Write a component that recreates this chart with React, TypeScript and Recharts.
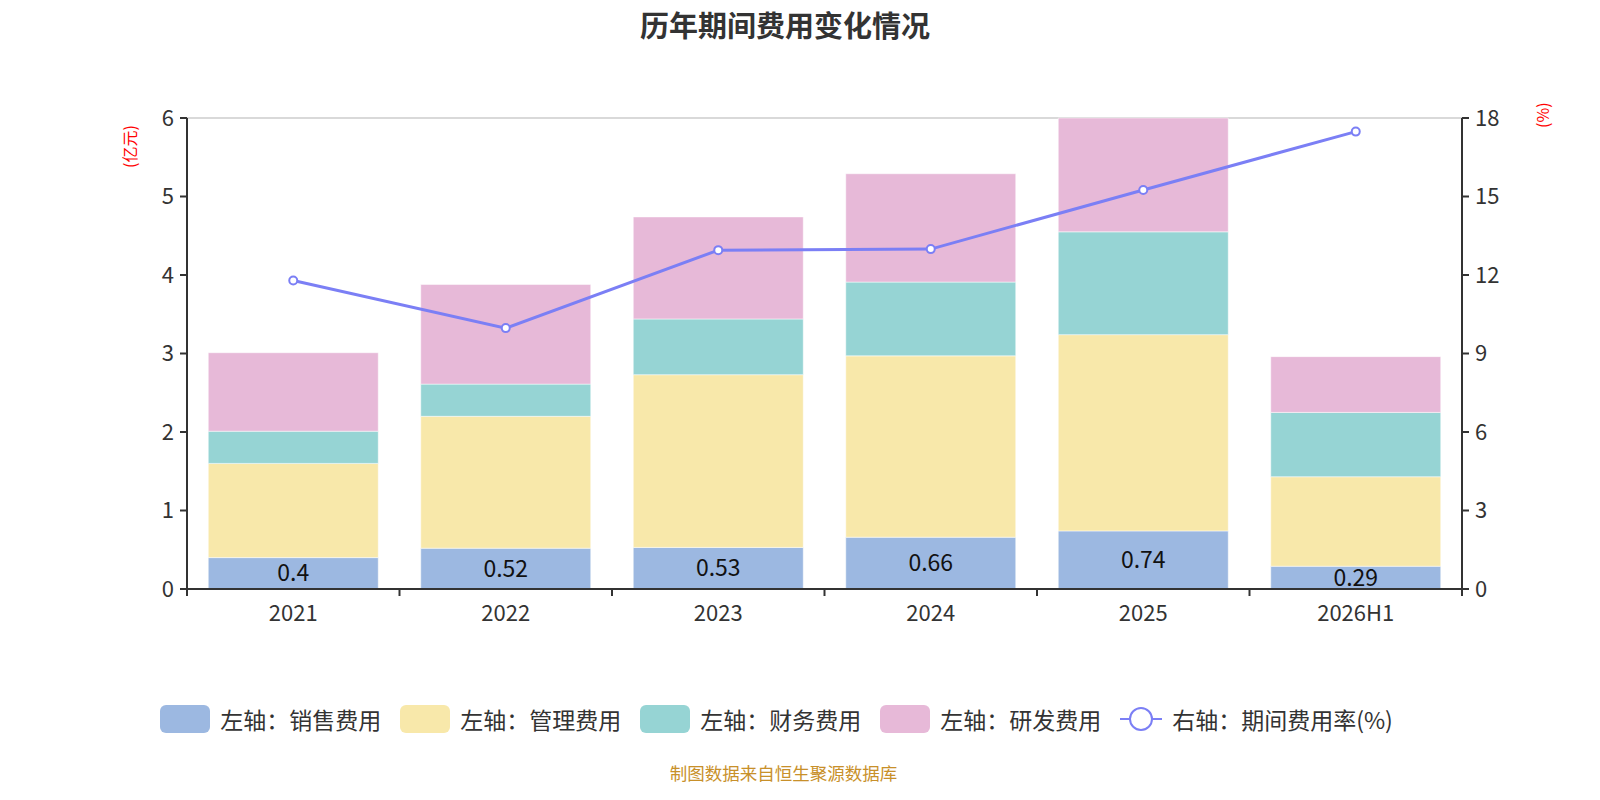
import React from "react";
import { ComposedChart, Bar, Line, XAxis, YAxis, CartesianGrid, LabelList } from "recharts";

const years = ["2021", "2022", "2023", "2024", "2025", "2026H1"];
const sales = [0.4, 0.52, 0.53, 0.66, 0.74, 0.29];
const admin = [1.2, 1.68, 2.2, 2.31, 2.5, 1.14];
const finance = [0.41, 0.41, 0.71, 0.94, 1.31, 0.82];
const rnd = [1.0, 1.27, 1.3, 1.38, 1.45, 0.71];
const rate = [11.79, 9.97, 12.95, 12.99, 15.25, 17.48];

const leftTicks = [0, 1, 2, 3, 4, 5, 6];
const rightTicks = [0, 3, 6, 9, 12, 15, 18];

const data = years.map((year, i) => ({
  year,
  sales: sales[i],
  admin: admin[i],
  finance: finance[i],
  rnd: rnd[i],
  rate: rate[i],
}));

const FONT = '"Noto Sans CJK SC", "Noto Sans", sans-serif';
const W = 1600;
const H = 800;
const PLOT_LEFT = 187;
const PLOT_RIGHT = 1462;
const band = (PLOT_RIGHT - PLOT_LEFT) / years.length;

const legendItems = [
  { name: "左轴：销售费用", color: "#9cb8e1", type: "rect" },
  { name: "左轴：管理费用", color: "#f8e8aa", type: "rect" },
  { name: "左轴：财务费用", color: "#96d4d4", type: "rect" },
  { name: "左轴：研发费用", color: "#e7b9d8", type: "rect" },
  { name: "右轴：期间费用率(%)", color: "#7b7ff5", type: "line" },
];

// 类目轴刻度画在类目边界上
const XTick = (props: any) => {
  const { x, y, payload, index } = props;
  const last = index === years.length - 1;
  return (
    <g>
      <line x1={x - band / 2} y1={y - 8} x2={x - band / 2} y2={y - 1} stroke="#333" strokeWidth={2} />
      {last && <line x1={x + band / 2} y1={y - 8} x2={x + band / 2} y2={y - 1} stroke="#333" strokeWidth={2} />}
      <text x={x} y={y + 24} textAnchor="middle" fontSize={22} fill="#333" fontFamily={FONT}>
        {payload.value}
      </text>
    </g>
  );
};

function Legend() {
  return (
    <div
      style={{
        position: "absolute",
        left: 0,
        top: 703,
        width: 1553,
        height: 32,
        display: "flex",
        justifyContent: "center",
        alignItems: "center",
        fontFamily: FONT,
        fontSize: 23,
        color: "#333",
      }}
    >
      {legendItems.map((item, i) => (
        <div
          key={item.name}
          style={{ display: "flex", alignItems: "center", marginRight: i === legendItems.length - 1 ? 0 : 19 }}
        >
          {item.type === "rect" ? (
            <div style={{ width: 50, height: 28, borderRadius: 6, background: item.color, marginRight: 10 }} />
          ) : (
            <svg width={42} height={28} style={{ marginRight: 10 }}>
              <line x1={0} y1={14} x2={42} y2={14} stroke={item.color} strokeWidth={2} />
              <circle cx={21} cy={14} r={11} fill="#fff" stroke={item.color} strokeWidth={2} />
            </svg>
          )}
          <span>{item.name}</span>
        </div>
      ))}
    </div>
  );
}

export default function App() {
  return (
    <div style={{ position: "absolute", left: 0, top: 0, width: W, height: H, background: "#fff", fontFamily: FONT }}>
      <div
        style={{
          position: "absolute",
          left: 0,
          top: 3,
          width: 1570,
          textAlign: "center",
          fontSize: 29,
          fontWeight: "bold",
          color: "#333",
        }}
      >
        历年期间费用变化情况
      </div>
      <div
        style={{
          position: "absolute",
          left: 117,
          top: 118,
          fontSize: 16,
          color: "#ff0000",
          transform: "rotate(-90deg)",
          transformOrigin: "left top",
          whiteSpace: "nowrap",
        }}
      >
        <span style={{ position: "absolute", left: -50, top: 0 }}>(亿元)</span>
      </div>
      <div
        style={{
          position: "absolute",
          left: 1530,
          top: 96,
          fontSize: 16,
          color: "#ff0000",
          transform: "rotate(-90deg)",
          transformOrigin: "left top",
          whiteSpace: "nowrap",
        }}
      >
        <span style={{ position: "absolute", left: -32, top: 0 }}>(%)</span>
      </div>
      <ComposedChart
        width={W}
        height={H}
        data={data}
        margin={{ top: 118, right: 78, left: 127, bottom: 171 }}
        barCategoryGap="10%"
      >
        <CartesianGrid vertical={false} stroke="#ccc" strokeWidth={1.5} />
        <XAxis
          dataKey="year"
          height={40}
          tickLine={false}
          axisLine={{ stroke: "#333", strokeWidth: 2 }}
          tick={<XTick />}
          interval={0}
        />
        <YAxis
          yAxisId="left"
          orientation="left"
          width={60}
          domain={[0, 6]}
          ticks={leftTicks}
          tickSize={7}
          tickMargin={6}
          tick={{ fontSize: 22, fill: "#333", fontFamily: FONT }}
          tickLine={{ stroke: "#333", strokeWidth: 2 }}
          axisLine={{ stroke: "#333", strokeWidth: 2 }}
        />
        <YAxis
          yAxisId="right"
          orientation="right"
          width={60}
          domain={[0, 18]}
          ticks={rightTicks}
          tickSize={7}
          tickMargin={6}
          tick={{ fontSize: 22, fill: "#333", fontFamily: FONT }}
          tickLine={{ stroke: "#333", strokeWidth: 2 }}
          axisLine={{ stroke: "#333", strokeWidth: 2 }}
        />
        <Bar yAxisId="left" dataKey="sales" stackId="a" fill="#9cb8e1" stroke="#fff" strokeWidth={0.5} isAnimationActive={false}>
          <LabelList dataKey="sales" position="center" fontSize={23} fill="#111" fontFamily={FONT} />
        </Bar>
        <Bar yAxisId="left" dataKey="admin" stackId="a" fill="#f8e8aa" stroke="#fff" strokeWidth={0.5} isAnimationActive={false} />
        <Bar yAxisId="left" dataKey="finance" stackId="a" fill="#96d4d4" stroke="#fff" strokeWidth={0.5} isAnimationActive={false} />
        <Bar yAxisId="left" dataKey="rnd" stackId="a" fill="#e7b9d8" stroke="#fff" strokeWidth={0.5} isAnimationActive={false} />
        <Line
          yAxisId="right"
          dataKey="rate"
          stroke="#7b7ff5"
          strokeWidth={3}
          dot={{ r: 4, fill: "#fff", stroke: "#7b7ff5", strokeWidth: 2 }}
          activeDot={false}
          isAnimationActive={false}
        />
      </ComposedChart>
      <Legend />
      <div
        style={{
          position: "absolute",
          left: 0,
          top: 760,
          width: 1567,
          textAlign: "center",
          fontSize: 17.5,
          color: "#c8902a",
        }}
      >
        制图数据来自恒生聚源数据库
      </div>
    </div>
  );
}
